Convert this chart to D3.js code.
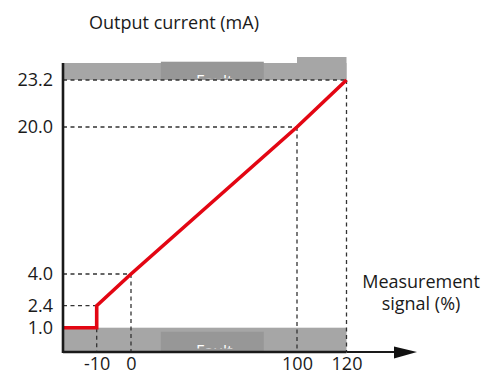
<!DOCTYPE html>
<html><head><meta charset="utf-8">
<script src="https://cdn.jsdelivr.net/npm/d3@7"></script>
<style>
html,body{margin:0;padding:0;background:#fff;}
svg{display:block;}
text{font-family:"Open Sans",Lato,sans-serif;fill:#1a1a1a;}
</style></head>
<body>
<svg id="c" width="485" height="374"></svg>
<script>
// ---- data ----
const yTicks = [1.0, 2.4, 4.0, 20.0, 23.2];
const yTickLabels = ["1.0", "2.4", "4.0", "20.0", "23.2"];
const xTicks = [-10, 0, 100, 120];
const xTickLabels = ["-10", "0", "100", "120"];
const signal = [-20, -10, -10, 0, 100, 120];     // measurement signal (%)
const current = [1.0, 1.0, 2.4, 4.0, 20.0, 23.2]; // output current (mA)
const faultBlock = [18, 80];       // darker "Fault" block extent (%)
const faultHigh = [100, 120];      // raised block in upper band (%)
const yTitle = "Output current (mA)";
const xTitle = ["Measurement", "signal (%)"];
const faultLabel = "Fault";

// ---- layout ----
const svg = d3.select("#c");
const x0 = 63, xEnd = 417, yBase = 352, yTop = 63;
// schematic (piecewise) scales as drawn in the figure
const x = d3.scaleLinear().domain([-20, -10, 0, 100, 120]).range([x0, 96.7, 131, 297, 346.5]);
const y = d3.scaleLinear().domain(yTicks).range([327.7, 305.7, 274, 127, 80]);

const light = "#a6a6a6", dark = "#979797";
const fs = "18px";

// clip for fault text
const defs = svg.append("defs");
defs.append("clipPath").attr("id","clipTop").append("rect")
  .attr("x", x0).attr("y", yTop-8).attr("width", x(120)-x0).attr("height", 78.3-(yTop-8));
defs.append("clipPath").attr("id","clipBot").append("rect")
  .attr("x", x0).attr("y", y(1.0)).attr("width", x(120)-x0).attr("height", 348.6-y(1.0));

// upper band
svg.append("rect").attr("x", x0).attr("y", yTop).attr("width", x(120)-x0).attr("height", y(23.2)-yTop).attr("fill", light);
svg.append("rect").attr("x", x(faultHigh[0])).attr("y", yTop-6).attr("width", x(faultHigh[1])-x(faultHigh[0])).attr("height", y(23.2)-yTop+6).attr("fill", light);
svg.append("rect").attr("x", x(faultBlock[0])).attr("y", yTop-1.3).attr("width", x(faultBlock[1])-x(faultBlock[0])).attr("height", y(23.2)-yTop+1.3).attr("fill", dark);
// lower band
svg.append("rect").attr("x", x0).attr("y", y(1.0)).attr("width", x(120)-x0).attr("height", yBase-y(1.0)).attr("fill", light);
svg.append("rect").attr("x", x(faultBlock[0])).attr("y", y(1.0)+4).attr("width", x(faultBlock[1])-x(faultBlock[0])).attr("height", yBase-y(1.0)-4).attr("fill", dark);

// clipped fault labels
svg.append("text").attr("clip-path","url(#clipTop)").attr("x", 196).attr("y", 86.9)
  .style("font-size","16px").style("fill","#fff").text(faultLabel);
svg.append("text").attr("clip-path","url(#clipBot)").attr("x", 196).attr("y", 357.1)
  .style("font-size","16px").style("fill","#fff").text(faultLabel);

// dashed guides
const dash = "4,3.5";
const guides = [[-10, 2.4], [0, 4.0], [100, 20.0], [120, 23.2]];
guides.forEach(([gx, gy]) => {
  svg.append("line").attr("x1", x0).attr("x2", x(gx)).attr("y1", y(gy)).attr("y2", y(gy))
    .attr("stroke", "#333").attr("stroke-width", 1.3).attr("stroke-dasharray", dash);
  svg.append("line").attr("x1", x(gx)).attr("x2", x(gx)).attr("y1", y(gy)).attr("y2", yBase)
    .attr("stroke", "#333").attr("stroke-width", 1.3).attr("stroke-dasharray", dash);
});

// red characteristic
const pts = signal.map((s, i) => [s, current[i]]);
svg.append("path").datum(pts)
  .attr("d", d3.line().x(d => x(d[0])).y(d => y(d[1])))
  .attr("fill", "none").attr("stroke", "#e30613").attr("stroke-width", 3.6)
  .attr("stroke-linejoin", "miter");

// axes
const yAxis = svg.append("g").attr("transform", `translate(${x0},0)`)
  .call(d3.axisLeft(y).tickValues(yTicks).tickFormat((d,i) => yTickLabels[i]).tickSize(0).tickPadding(10));
yAxis.select(".domain").remove();
yAxis.selectAll("text").style("font-size",fs).style("font-family","'Open Sans',sans-serif").attr("fill","#1a1a1a");
svg.append("line").attr("x1", x0).attr("x2", x0).attr("y1", yTop).attr("y2", yBase+1)
  .attr("stroke", "#1a1a1a").attr("stroke-width", 2.6);

const xAxis = svg.append("g").attr("transform", `translate(0,${yBase})`)
  .call(d3.axisBottom(x).tickValues(xTicks).tickFormat((d,i) => xTickLabels[i]).tickSize(0).tickPadding(5));
xAxis.select(".domain").remove();
xAxis.selectAll("text").style("font-size",fs).style("font-family","'Open Sans',sans-serif").attr("fill","#1a1a1a");
svg.append("line").attr("x1", x0).attr("x2", x(120)).attr("y1", yBase).attr("y2", yBase)
  .attr("stroke", "#1a1a1a").attr("stroke-width", 2.6);
svg.append("line").attr("x1", x(120)).attr("x2", 398).attr("y1", yBase).attr("y2", yBase)
  .attr("stroke", "#1a1a1a").attr("stroke-width", 2);
svg.append("path").attr("d", `M${394},${yBase-5.5}L${xEnd},${yBase}L${394},${yBase+6.5}Z`).attr("fill", "#111");

// titles
svg.append("text").attr("x", 174).attr("y", 29).attr("text-anchor","middle").style("font-size",fs).text(yTitle);
svg.append("text").attr("x", 421).attr("y", 288).attr("text-anchor","middle").style("font-size",fs).text(xTitle[0]);
svg.append("text").attr("x", 421).attr("y", 310).attr("text-anchor","middle").style("font-size",fs).text(xTitle[1]);
</script>
</body></html>
